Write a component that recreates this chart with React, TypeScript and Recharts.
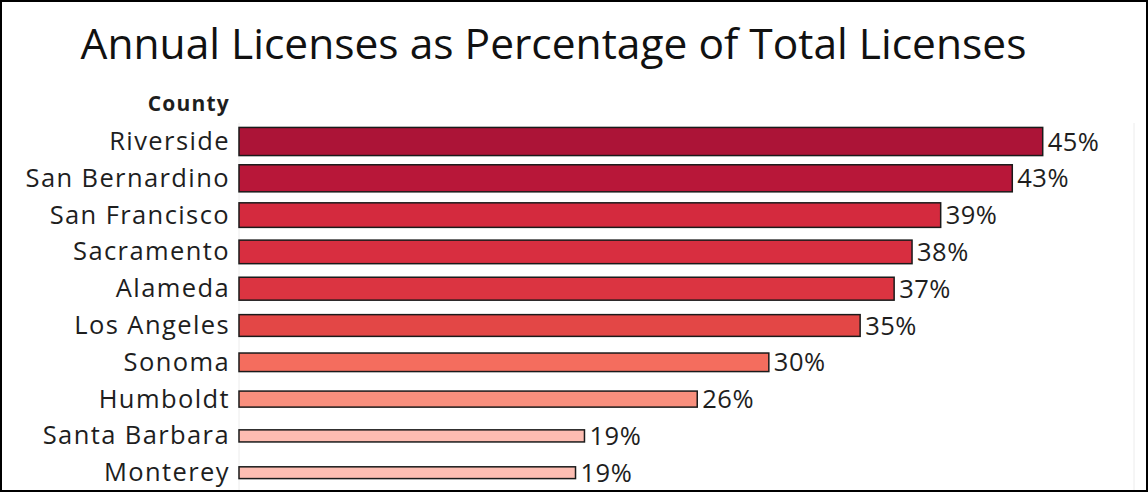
import React from 'react';
import { BarChart, Bar, XAxis, YAxis, CartesianGrid, LabelList } from 'recharts';

const counties = ['Riverside', 'San Bernardino', 'San Francisco', 'Sacramento', 'Alameda', 'Los Angeles', 'Sonoma', 'Humboldt', 'Santa Barbara', 'Monterey'];
const shares = [44.9, 43.2, 39.2, 37.6, 36.6, 34.7, 29.6, 25.6, 19.3, 18.8];
const barColors = ['#AC1437', '#B81739', '#D42A3E', '#D82E40', '#DB3441', '#E34746', '#F46D5E', '#F88F7D', '#FDBCB1', '#FDBDB2'];
const xTicks = [0, 5, 10, 15, 20, 25, 30, 35, 40, 45, 50];

const data = counties.map((name, i) => ({ name, value: shares[i], color: barColors[i] }));
const maxShare = Math.max(...shares);

const FONT = '"Open Sans", "Noto Sans", sans-serif';

const SizedBar = (props: any) => {
  const { x, y, width, height, payload } = props;
  const h = height * 0.76 * (payload.value / maxShare);
  const y0 = y + (height - h) / 2;
  return <rect x={x} y={y0} width={width} height={h} fill={payload.color} stroke="#1a1a1a" strokeWidth={1.5} />;
};

const CountyTick = (props: any) => {
  const { x, y, payload } = props;
  return (
    <text x={x - 1} y={y} dy={8.5} textAnchor="end" fontSize={25.5} letterSpacing={1.4} fill="#1e1e1e" fontFamily={FONT}>
      {payload.value}
    </text>
  );
};

export default function App() {
  return (
    <div style={{ position: 'absolute', left: 0, top: 0, width: 1148, height: 492, background: '#fff', fontFamily: FONT }}>
      <div style={{ position: 'absolute', left: 0, top: 14, width: 1107, textAlign: 'center', fontSize: 42.5, lineHeight: 'normal', color: '#111', whiteSpace: 'nowrap' }}>
        Annual Licenses as Percentage of Total Licenses
      </div>
      <div style={{ position: 'absolute', right: 1148 - 230, top: 89, fontSize: 21, lineHeight: 'normal', letterSpacing: 1.2, fontWeight: 700, color: '#1e1e1e' }}>
        County
      </div>
      <div style={{ position: 'absolute', left: 0, top: 0 }}>
        <BarChart
          width={1148}
          height={492}
          data={data}
          layout="vertical"
          margin={{ top: 123, right: 14, bottom: 1, left: 0 }}
          barCategoryGap={0}
        >
          <CartesianGrid horizontal={false} vertical={true} stroke="#ececec" strokeWidth={1} />
          <XAxis type="number" domain={[0, 50]} ticks={xTicks} height={0} tick={false} axisLine={false} tickLine={false} />
          <YAxis type="category" dataKey="name" width={239} tickLine={false} axisLine={false} tick={<CountyTick />} interval={0} />
          <Bar dataKey="value" isAnimationActive={false} shape={<SizedBar />}>
            <LabelList
              dataKey="value"
              position="right"
              offset={5}
              formatter={(v: any) => `${Math.round(v)}%`}
              style={{ fontSize: 25.5, letterSpacing: 0.5, fill: '#1e1e1e', fontFamily: FONT }}
            />
          </Bar>
        </BarChart>
      </div>
      <div style={{ position: 'absolute', left: 0, top: 0, width: 1148, height: 492, boxSizing: 'border-box', border: '2px solid #000', pointerEvents: 'none' }} />
    </div>
  );
}
